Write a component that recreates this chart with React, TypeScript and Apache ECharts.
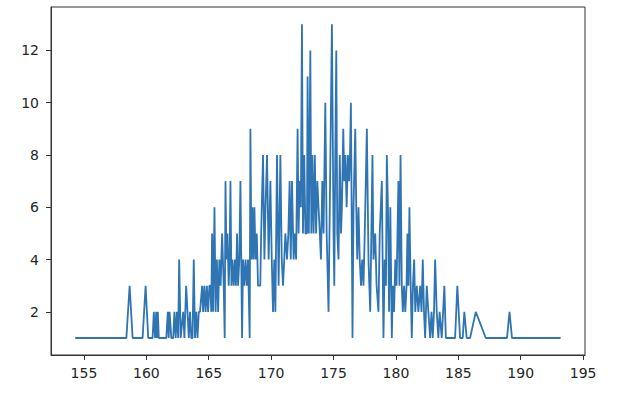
import React, { useEffect, useRef } from "react";
import * as echarts from "echarts";

const heights: number[] = [
  154.3, 158.4, 158.66, 158.9, 159.7, 159.94, 160.15, 160.5, 160.6, 160.7, 160.79, 160.85, 160.92, 161.0,
  161.6, 161.72, 161.79, 161.86, 162.0, 162.15, 162.25, 162.35, 162.45, 162.55, 162.63, 162.75, 162.95,
  163.05, 163.19, 163.3, 163.4, 163.5, 163.6, 163.7, 163.8, 163.9, 164.0, 164.1, 164.2, 164.3, 164.47,
  164.55, 164.65, 164.75, 164.85, 164.95, 165.05, 165.13, 165.2, 165.27, 165.35, 165.46, 165.55, 165.65,
  165.75, 165.85, 165.95, 166.07, 166.2, 166.28, 166.34, 166.42, 166.5, 166.6, 166.67, 166.74, 166.82,
  166.9, 167.0, 167.1, 167.18, 167.27, 167.35, 167.45, 167.54, 167.67, 167.75, 167.85, 167.95, 168.05,
  168.15, 168.28, 168.34, 168.42, 168.5, 168.58, 168.66, 168.75, 168.85, 168.95, 169.05, 169.13, 169.2,
  169.35, 169.46, 169.55, 169.67, 169.8, 169.94, 170.05, 170.15, 170.25, 170.34, 170.47, 170.6, 170.74,
  170.85, 170.95, 171.05, 171.14, 171.27, 171.38, 171.48, 171.57, 171.67, 171.8, 171.9, 172.0, 172.12,
  172.2, 172.28, 172.38, 172.47, 172.55, 172.65, 172.75, 172.87, 172.92, 173.02, 173.14, 173.22, 173.3,
  173.4, 173.5, 173.6, 173.7, 173.8, 173.9, 173.99, 174.1, 174.2, 174.34, 174.45, 174.6, 174.7, 174.87,
  175.0, 175.06, 175.14, 175.22, 175.3, 175.4, 175.5, 175.6, 175.67, 175.78, 175.86, 175.95, 176.05,
  176.15, 176.25, 176.32, 176.39, 176.45, 176.52, 176.6, 176.74, 176.82, 176.9, 177.0, 177.1, 177.2,
  177.3, 177.4, 177.5, 177.67, 177.8, 177.94, 178.03, 178.12, 178.2, 178.34, 178.45, 178.6, 178.7,
  178.87, 179.0, 179.1, 179.2, 179.27, 179.36, 179.45, 179.55, 179.67, 179.75, 179.85, 179.95, 180.05,
  180.2, 180.28, 180.37, 180.47, 180.55, 180.65, 180.75, 180.85, 180.92, 181.0, 181.08, 181.18, 181.27,
  181.36, 181.46, 181.55, 181.67, 181.8, 181.94, 182.05, 182.15, 182.25, 182.34, 182.47, 182.6, 182.74,
  182.85, 182.95, 183.05, 183.14, 183.27, 183.4, 183.5, 183.67, 183.78, 183.88, 184.0, 184.74, 184.92,
  185.14, 185.35, 185.48, 185.67, 185.94, 186.4, 187.2, 188.9, 189.1, 189.3, 193.2,
];

const counts: number[] = [
  1, 1, 3, 1, 1, 3, 1, 1, 2, 1, 2, 1, 2, 1,
  1, 2, 1, 2, 1, 1, 2, 1, 2, 1, 4, 1, 2,
  1, 3, 2, 1, 2, 1, 1, 4, 1, 2, 1, 2, 2, 3,
  2, 3, 2, 3, 2, 3, 3, 2, 5, 2, 6, 2, 4,
  2, 4, 3, 5, 3, 1, 7, 4, 5, 3, 4, 7, 3,
  4, 3, 4, 3, 5, 3, 4, 7, 1, 4, 3, 4, 3,
  4, 1, 9, 4, 6, 4, 6, 4, 5, 3, 3, 3, 5,
  8, 4, 6, 8, 4, 7, 4, 2, 4, 2, 8, 3, 8,
  4, 3, 4, 5, 4, 5, 7, 4, 7, 4, 5, 4, 9,
  5, 7, 6, 13, 5, 8, 5, 5, 11, 5, 12, 5, 8,
  5, 8, 5, 7, 6, 5, 4, 7, 5, 10, 5, 2, 6, 13,
  5, 3, 8, 12, 5, 4, 8, 5, 6, 9, 7, 8, 6,
  8, 7, 8, 10, 6, 1, 6, 9, 6, 4, 6, 4, 3,
  4, 3, 5, 9, 4, 2, 5, 8, 4, 5, 3, 2, 5,
  7, 1, 4, 3, 8, 6, 2, 6, 1, 3, 2, 4, 3,
  7, 3, 8, 3, 2, 3, 2, 3, 5, 3, 6, 3, 1,
  3, 4, 2, 3, 2, 3, 2, 4, 2, 1, 3, 2, 1,
  2, 1, 2, 4, 2, 1, 2, 1, 2, 3, 1, 1, 3,
  1, 1, 2, 1, 1, 2, 1, 1, 2, 1, 1,
];

const xTicks: number[] = [155, 160, 165, 170, 175, 180, 185, 190, 195];
const yTicks: number[] = [2, 4, 6, 8, 10, 12];

export default function App() {
  const ref = useRef<HTMLDivElement>(null);
  useEffect(() => {
    if (!ref.current) return;
    const chart = echarts.init(ref.current, null, { renderer: "svg" });
    const data = heights.map((h, i) => [h, counts[i]]);
    const labelStyle = { color: "#262626", fontSize: 14, fontFamily: "DejaVu Sans" };
    chart.setOption({
      animation: false,
      backgroundColor: "#ffffff",
      grid: {
        left: 51,
        right: 40,
        top: 7,
        bottom: 54,
        show: true,
        borderColor: "#333",
        borderWidth: 1,
        backgroundColor: "transparent",
      },
      xAxis: {
        type: "value",
        min: 152.36,
        max: 195.15,
        splitLine: { show: false },
        axisLine: { show: true, lineStyle: { color: "#333", width: 1 } },
        axisTick: { show: true, length: 5, lineStyle: { color: "#333", width: 1 }, customValues: xTicks },
        axisLabel: { ...labelStyle, margin: 11, customValues: xTicks },
      },
      yAxis: {
        type: "value",
        min: 0.35,
        max: 13.66,
        splitLine: { show: false },
        axisLine: { show: true, lineStyle: { color: "#333", width: 1 } },
        axisTick: { show: true, length: 5, lineStyle: { color: "#333", width: 1 }, customValues: yTicks },
        axisLabel: { ...labelStyle, margin: 12, customValues: yTicks },
      },
      series: [
        {
          type: "line",
          data,
          showSymbol: false,
          symbol: "none",
          lineStyle: { color: "#2f74b3", width: 1.8 },
        },
      ],
    });
    return () => chart.dispose();
  }, []);
  return (
    <div
      ref={ref}
      style={{ position: "absolute", left: 0, top: 0, width: 625, height: 409, background: "#fff" }}
    />
  );
}
